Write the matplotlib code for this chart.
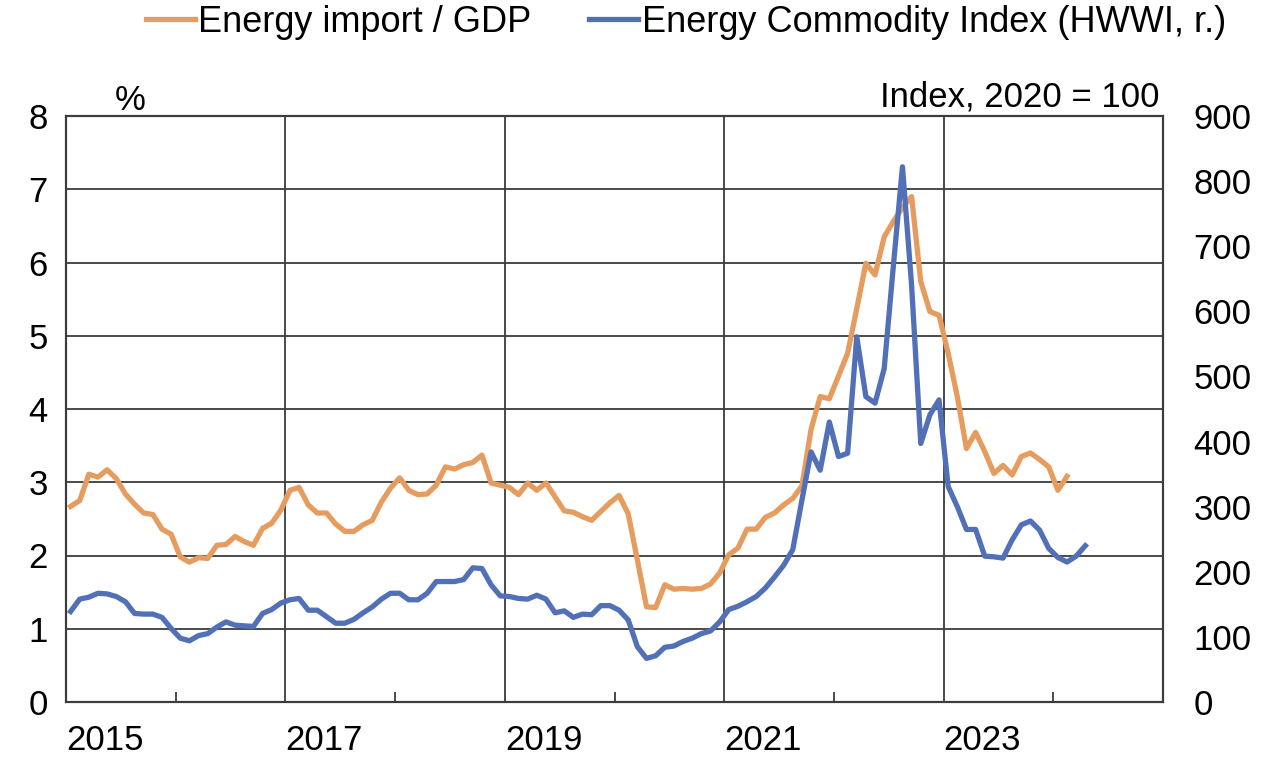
import numpy as np
import matplotlib.pyplot as plt

plt.rcParams['font.family'] = ['Liberation Sans', 'DejaVu Sans']

# monthly values, Jan 2015 onwards
energy_gdp = [2.67, 2.75, 3.11, 3.07, 3.17, 3.05, 2.84, 2.70, 2.58, 2.56,
              2.36, 2.29, 1.98, 1.91, 1.97, 1.96, 2.14, 2.15, 2.26, 2.19,
              2.14, 2.37, 2.44, 2.62, 2.89, 2.93, 2.69, 2.58, 2.58, 2.43,
              2.33, 2.33, 2.42, 2.48, 2.73, 2.92, 3.06, 2.89, 2.83, 2.84,
              2.96, 3.21, 3.18, 3.24, 3.27, 3.37, 2.99, 2.96, 2.93, 2.83,
              2.99, 2.89, 2.99, 2.80, 2.61, 2.59, 2.53, 2.48, 2.60, 2.72,
              2.82, 2.57, 1.94, 1.30, 1.29, 1.60, 1.54, 1.55, 1.54, 1.55,
              1.61, 1.76, 2.01, 2.10, 2.36, 2.36, 2.52, 2.58, 2.69, 2.78,
              2.95, 3.72, 4.17, 4.14, 4.45, 4.76, 5.37, 5.99, 5.83, 6.35,
              6.56, 6.75, 6.90, 5.74, 5.33, 5.28, 4.76, 4.17, 3.46, 3.68,
              3.42, 3.12, 3.23, 3.10, 3.35, 3.40, 3.31, 3.21, 2.89, 3.08]

hwwi_energy = [139, 158, 161, 167, 166, 162, 154, 136, 135, 135,
               130, 113, 98, 94, 102, 105, 115, 123, 118, 117,
               116, 136, 142, 152, 157, 159, 141, 141, 131, 121,
               121, 127, 137, 146, 158, 167, 167, 157, 157, 167,
               185, 185, 185, 188, 206, 205, 180, 163, 162, 159,
               158, 164, 158, 137, 140, 130, 135, 134, 148, 148,
               141, 126, 85, 67, 71, 84, 86, 93, 98, 105,
               109, 123, 142, 147, 154, 162, 175, 192, 210, 234,
               310, 384, 356, 430, 377, 382, 561, 469, 459, 512,
               669, 822, 640, 397, 441, 464, 331, 300, 265, 265,
               224, 223, 221, 249, 272, 278, 264, 236, 222, 215,
               224, 240]

major_years = [2015, 2017, 2019, 2021, 2023]
minor_years = [2016, 2018, 2020, 2022, 2024]

ORANGE = '#E69C5E'
BLUE = '#5270B8'
GRID = '#3c3c3c'
FS = 25

t_energy = 2015 + (np.arange(len(energy_gdp)) + 0.5) / 12
t_hwwi = 2015 + (np.arange(len(hwwi_energy)) + 0.5) / 12

fig = plt.figure(figsize=(12.63, 7.57), dpi=100)
ax = fig.add_axes([66 / 1263, 1 - 702 / 757, 1097 / 1263, 586 / 757])
ax2 = ax.twinx()

l1, = ax.plot(t_energy, energy_gdp, color=ORANGE, lw=3.8,
              solid_joinstyle='round', label='Energy import / GDP')
l2, = ax2.plot(t_hwwi, hwwi_energy, color=BLUE, lw=3.8,
               solid_joinstyle='round', label='Energy Commodity Index (HWWI, r.)')

ax.set_xlim(2015, 2025)
ax.set_ylim(0, 8)
ax2.set_ylim(0, 900)

ax.set_xticks(major_years)
ax.set_xticklabels([str(y) for y in major_years], ha='left')
ax.set_xticks(minor_years, minor=True)
ax.set_yticks(range(0, 9))
ax2.set_yticks(range(0, 1000, 100))

ax.grid(True, which='major', color=GRID, lw=1.3)
ax.set_axisbelow(True)

ax.tick_params(axis='x', which='major', length=0, pad=16, labelsize=FS)
ax.tick_params(axis='x', which='minor', direction='in', length=7, width=1.3, color=GRID)
ax.tick_params(axis='y', length=0, pad=13, labelsize=FS)
ax2.tick_params(axis='y', length=0, pad=22, labelsize=FS)

for a in (ax, ax2):
    for s in a.spines.values():
        s.set_color(GRID)
        s.set_linewidth(1.5)

fig.text(130 / 1263, 1 - 100 / 757, '%', fontsize=FS, ha='center', va='center')
fig.text(1160 / 1263, 1 - 97 / 757, 'Index, 2020 = 100', fontsize=FS,
         ha='right', va='center')

fig.legend(handles=[l1, l2], loc='center', bbox_to_anchor=(686 / 1263, 1 - 22 / 757),
           ncol=2, frameon=False, fontsize=26, handlelength=1.35,
           handletextpad=0.1, columnspacing=1.6)

fig.savefig('out.png', dpi=100)
